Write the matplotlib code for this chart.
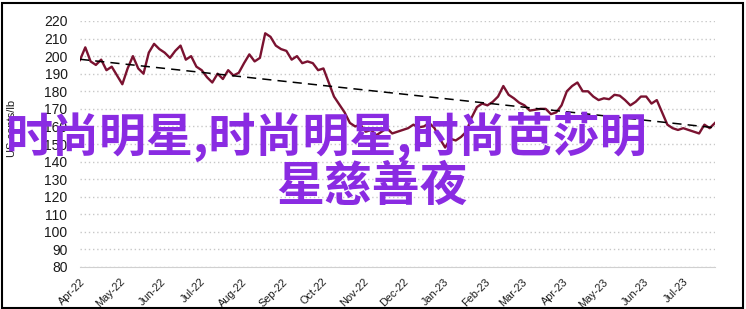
import matplotlib
matplotlib.use("Agg")
import matplotlib.pyplot as plt
import matplotlib.dates as mdates
from matplotlib.patches import Rectangle
import numpy as np
import pandas as pd

# price series, one reading every 4 days from 1 Apr 2022
start_date = "2022-04-01"
prices = [
    197.8, 205, 197, 195, 198, 192, 194, 189, 184, 193,
    200, 193, 190, 202, 207, 204, 202, 199, 203, 206,
    198, 200, 194, 192, 188, 185, 190, 187, 192, 189,
    190.5, 196, 201, 197, 199, 213, 211, 206, 204, 203,
    198, 200, 196, 197, 196, 192, 193, 185, 177, 172.5,
    168, 162, 160, 161, 157, 158, 155, 157, 159, 156,
    157, 158, 159, 161, 159.5, 160, 162, 159, 153, 148,
    153, 152, 154, 157, 165, 171, 173, 172, 174, 177,
    183, 178, 176, 173.5, 172, 169, 169.5, 170, 170, 167,
    168, 172, 180, 183, 185, 180, 180, 177, 175, 176,
    175.5, 178, 177.5, 175, 172, 174, 177, 177, 173, 175,
    168, 161, 159, 158, 159, 158, 157, 156, 161, 159,
    162,
]
y_ticks = list(range(80, 230, 10))
overlay_line1 = "时尚明星,时尚明星,时尚芭莎明"
overlay_line2 = "星慈善夜"

dates = pd.date_range(start_date, periods=len(prices), freq="4D")

W, H = 746, 309
fig = plt.figure(figsize=(W / 100, H / 100), dpi=100)
ax = fig.add_axes([80 / W, 1 - 267 / H, (715 - 80) / W, (267 - 21) / H])

ax.plot(dates, prices, color="#7a1230", lw=1.7, zorder=3)

# linear trend line
xn = mdates.date2num(dates)
k, b = np.polyfit(xn, prices, 1)
ax.plot(dates, k * xn + b, color="black", lw=1.1, dashes=(6, 4), zorder=4)

ax.set_ylim(80, 220)
ax.set_yticks(y_ticks)
ax.set_xlim(dates[0], dates[-1])
ax.xaxis.set_major_locator(mdates.MonthLocator())
ax.xaxis.set_major_formatter(mdates.DateFormatter("%b-%y"))

ax.grid(axis="y", color="#c8c8c8", linestyle=(0, (1, 2)), lw=1)
for s in ["top", "right", "left"]:
    ax.spines[s].set_visible(False)
ax.spines["bottom"].set_color("#d0d0d0")
ax.tick_params(length=0)
ax.tick_params(axis="y", pad=9, labelsize=10, labelcolor="#1a1a1a")
ax.tick_params(axis="x", pad=7, labelsize=7.8, labelcolor="#1a1a1a")
for lab in ax.get_yticklabels():
    lab.set_fontfamily("Liberation Sans")
for lab in ax.get_xticklabels():
    lab.set_fontfamily("Liberation Sans")
    lab.set_rotation(45)
    lab.set_ha("right")
    lab.set_rotation_mode("anchor")

fig.text(12 / W, 1 - 128 / H, "US cents/lb", rotation=90, ha="center", va="center",
         fontsize=8, family="Liberation Sans", color="#1a1a1a")

# outer frame
fig.patches.append(Rectangle((1.5 / W, 1.5 / H), (W - 5) / W, (H - 4) / H,
                             transform=fig.transFigure, fill=False,
                             edgecolor="black", lw=1.5))

# overlay text
fig.text(6 / W, 1 - 137 / H, overlay_line1, ha="left", va="center",
         fontsize=33.8, fontweight="bold", color="#8a2be2",
         family=["Noto Sans CJK SC", "DejaVu Sans"], zorder=10)
fig.text(276 / W, 1 - 186 / H, overlay_line2, ha="left", va="center",
         fontsize=34.5, fontweight="bold", color="#8a2be2",
         family=["Noto Sans CJK SC", "DejaVu Sans"], zorder=10)

fig.savefig("out.png", dpi=100)
